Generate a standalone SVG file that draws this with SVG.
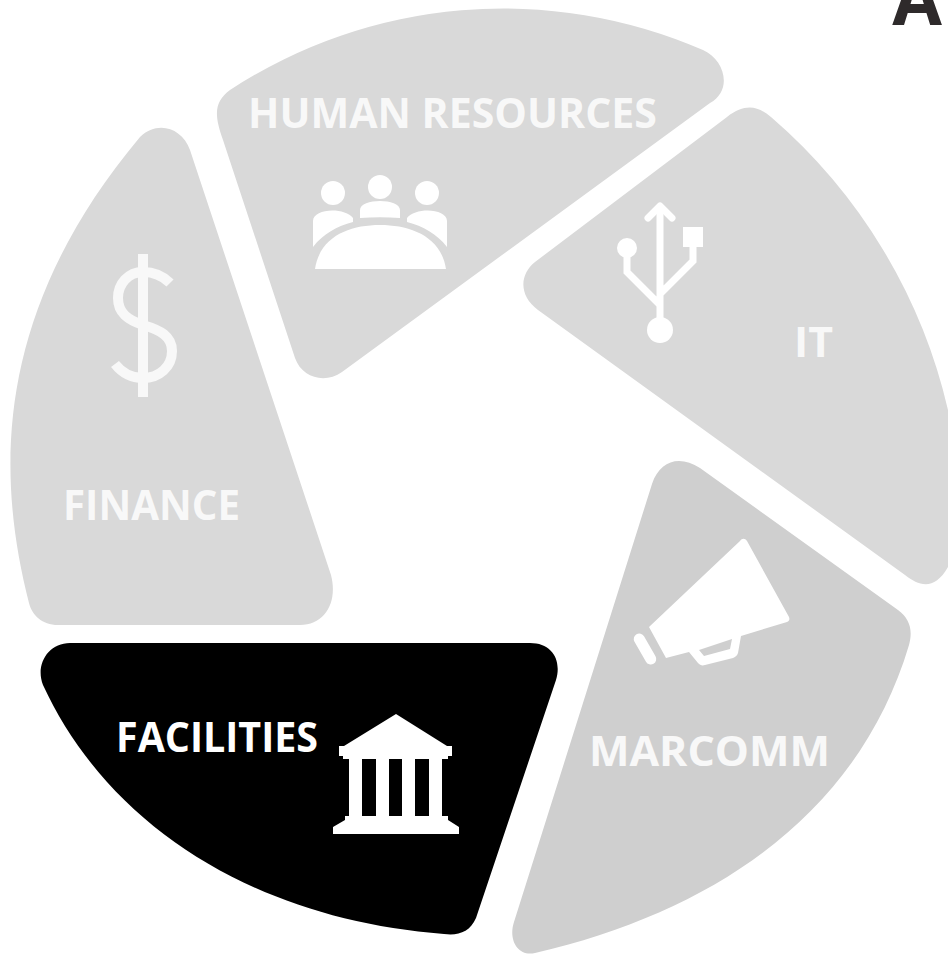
<svg xmlns="http://www.w3.org/2000/svg" width="948" height="954" viewBox="0 0 948 954">
<style>
.l{font-family:"Open Sans","Liberation Sans",sans-serif;font-weight:700;font-size:41px;fill:#f8f8f8}
.i{fill:#fff}
.s{fill:none;stroke:#fff;stroke-width:7}
</style>
<rect width="948" height="954" fill="#fff"/>
<g id="hr">
<path fill="#d9d9d9" d="M230 90A500 500 0 0 1 703 50C725 60 733 90 710 103L342 372C325 384 302 378 295 358L223 140C214 115 214 102 230 90Z"/>
<text class="l" x="248" y="128" textLength="409" lengthAdjust="spacingAndGlyphs">HUMAN RESOURCES</text>
<g class="i">
<circle cx="333" cy="193" r="12"/><circle cx="380" cy="187" r="12"/><circle cx="427" cy="193" r="12"/>
<path d="M313 247V221C313 208 345 207 353 218V222C337 226 323 234 313 247ZM360 218V210C360 198 400 198 400 210V218C387 217 373 217 360 218ZM407 218C415 207 447 208 447 221V247C437 234 423 226 407 222ZM315 269C320 236 350 225 380 225C410 225 441 236 446 269Z"/>
</g></g>
<g id="it">
<path fill="#d9d9d9" d="M771 117A550 550 0 0 1 948 410V567C935 590 920 587 905 575L538 310C518 295 520 274 535 262L727 117C745 103 758 106 771 117Z"/>
<text class="l" x="794" y="357" textLength="39" lengthAdjust="spacingAndGlyphs">IT</text>
<g class="i">
<path class="s" d="M660 205V330M627 250V272L660 305M693 240V261L660 294"/>
<path class="s" stroke-linecap="round" stroke-linejoin="round" d="M648 218L660 206L672 218"/>
<circle cx="627" cy="248" r="10"/><rect x="683" y="227" width="20" height="20"/><circle cx="660" cy="330" r="13"/>
</g></g>
<g id="marcomm">
<path fill="#cfcfcf" d="M652 484C660 460 680 455 700 468L898 610C910 619 913 630 909 645C860 810 720 910 535 953C518 957 508 940 514 922Z"/>
<text class="l" x="589" y="766" textLength="241" lengthAdjust="spacingAndGlyphs">MARCOMM</text>
<g class="i">
<path d="M740 541C742 538 745 538 747 541L789 617C790 620 789 621 787 622L741 636L738 653C737 656 735 657 733 658L705 665C702 666 700 665 698 663L689 652L666 658L649 627ZM699 650L704 656L730 649L732 639Z" fill-rule="evenodd"/>
<rect x="-5.500" y="-17" width="11" height="34" rx="5.500" transform="translate(645 649) rotate(-30)"/>
</g></g>
<g id="facilities">
<path fill="#000" d="M70 643H530C552 643 562 660 556 680L476 918C470 932 458 936 444 934C260 920 110 830 43 685C35 665 48 643 70 643Z"/>
<text class="l" x="116" y="752" textLength="202" lengthAdjust="spacingAndGlyphs" style="fill:#fff">FACILITIES</text>
<path class="i" d="M396 714L447 746H452V756H448V759H442V816H448V820L459 827V834H333V827L345 820V816H349V759H343V756H339V746H344ZM362 759V816H376V759ZM389 759V816H402V759ZM415 759V816H429V759Z" fill-rule="evenodd"/>
</g>
<g id="finance">
<path fill="#d9d9d9" d="M140 137C158 120 182 128 190 150L331 575C338 602 325 625 300 625H58C42 625 32 615 29 603C-5 470 -5 310 140 137Z"/>
<text class="l" x="63" y="520" textLength="177" lengthAdjust="spacingAndGlyphs">FINANCE</text>
<path fill="none" stroke="#f8f8f8" stroke-width="10" d="M170 283C163 276 154 272 143 272C128 272 118 284 118 298C118 313 128 320 143 325C160 330 172 336 172 351C172 367 159 378 143 378C132 378 122 373 115 364"/>
<rect x="138" y="254" width="10" height="143" fill="#f8f8f8"/>
</g>
<g id="letter"><text x="917" y="25" font-family="'Open Sans','Liberation Sans',sans-serif" font-weight="700" font-size="72" fill="#2e2a2b" text-anchor="middle">A</text></g>
<g id="connectors"></g>
</svg>
